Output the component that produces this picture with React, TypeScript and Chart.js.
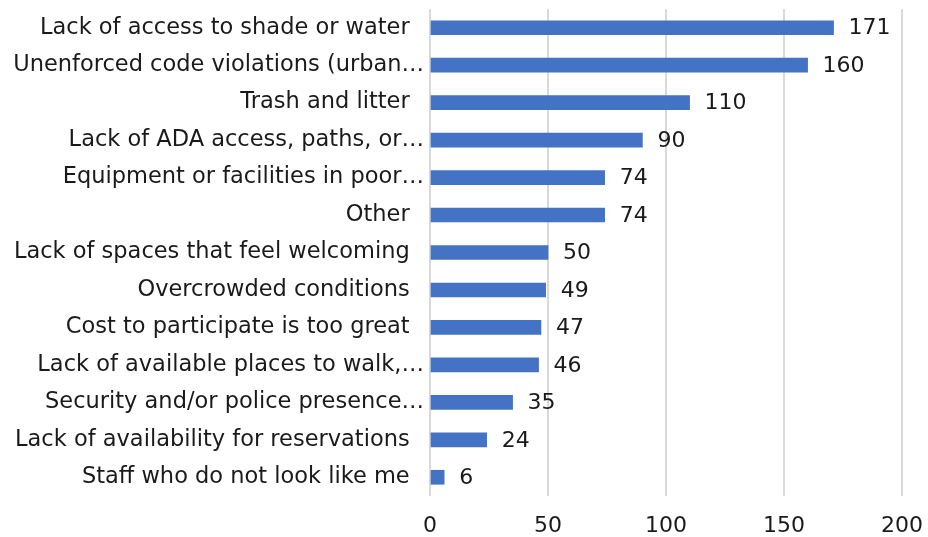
import React, { useEffect, useRef } from "react";
import { Chart, registerables } from "chart.js";

Chart.register(...registerables);

const categories: string[] = [
  "Lack of access to shade or water  ",
  "Unenforced code violations (urban…",
  "Trash and litter  ",
  "Lack of ADA access, paths, or…",
  "Equipment or facilities in poor…",
  "Other  ",
  "Lack of spaces that feel welcoming  ",
  "Overcrowded conditions  ",
  "Cost to participate is too great  ",
  "Lack of available places to walk,…",
  "Security and/or police presence…",
  "Lack of availability for reservations  ",
  "Staff who do not look like me  ",
];

const counts: number[] = [171, 160, 110, 90, 74, 74, 50, 49, 47, 46, 35, 24, 6];

const xTicks: number[] = [0, 50, 100, 150, 200];

const FONT = "'DejaVu Sans', sans-serif";
const TEXT = "#1a1a1a";

const valueLabels = {
  id: "valueLabels",
  afterDatasetsDraw(chart: any) {
    const ctx = chart.ctx;
    const meta = chart.getDatasetMeta(0);
    ctx.save();
    ctx.font = `22px ${FONT}`;
    ctx.fillStyle = TEXT;
    ctx.textAlign = "left";
    ctx.textBaseline = "middle";
    meta.data.forEach((bar: any, i: number) => {
      ctx.fillText(String(chart.data.datasets[0].data[i]), bar.x + 15, bar.y + 1);
    });
    ctx.restore();
  },
};

export default function App() {
  const ref = useRef<HTMLCanvasElement | null>(null);
  useEffect(() => {
    if (!ref.current) return;
    const chart = new Chart(ref.current, {
      type: "bar",
      data: {
        labels: categories,
        datasets: [
          {
            data: counts,
            backgroundColor: "#4472C4",
            borderWidth: 0,
            barThickness: 14,
          },
        ],
      },
      options: {
        indexAxis: "y",
        animation: false,
        responsive: false,
        maintainAspectRatio: false,
        devicePixelRatio: 1,
        layout: { padding: { top: 9, right: 26, bottom: 1, left: 0 } },
        plugins: { legend: { display: false }, tooltip: { enabled: false } },
        scales: {
          x: {
            min: 0,
            max: 200,
            afterBuildTicks: (scale: any) => {
              scale.ticks = xTicks.map((v) => ({ value: v }));
            },
            afterFit: (scale: any) => {
              scale.paddingLeft = 0;
              scale.paddingRight = 0;
              scale.height = 40;
            },
            grid: { color: "#d9d9d9", lineWidth: 2, drawTicks: false },
            border: { display: false },
            ticks: {
              padding: 17,
              color: TEXT,
              font: { family: FONT, size: 22 },
            },
          },
          y: {
            grid: { display: false },
            border: { display: false },
            afterFit: (scale: any) => {
              scale.width = 430;
              scale.paddingTop = 0;
              scale.paddingBottom = 0;
            },
            ticks: {
              padding: -2,
              color: TEXT,
              autoSkip: false,
              font: { family: FONT, size: 22.5 },
            },
          },
        },
      },
      plugins: [valueLabels],
    });
    return () => chart.destroy();
  }, []);
  return (
    <div style={{ position: "absolute", left: 0, top: 0, width: 928, height: 537, background: "#fff" }}>
      <canvas ref={ref} width={928} height={537} style={{ display: "block", width: 928, height: 537 }} />
    </div>
  );
}
